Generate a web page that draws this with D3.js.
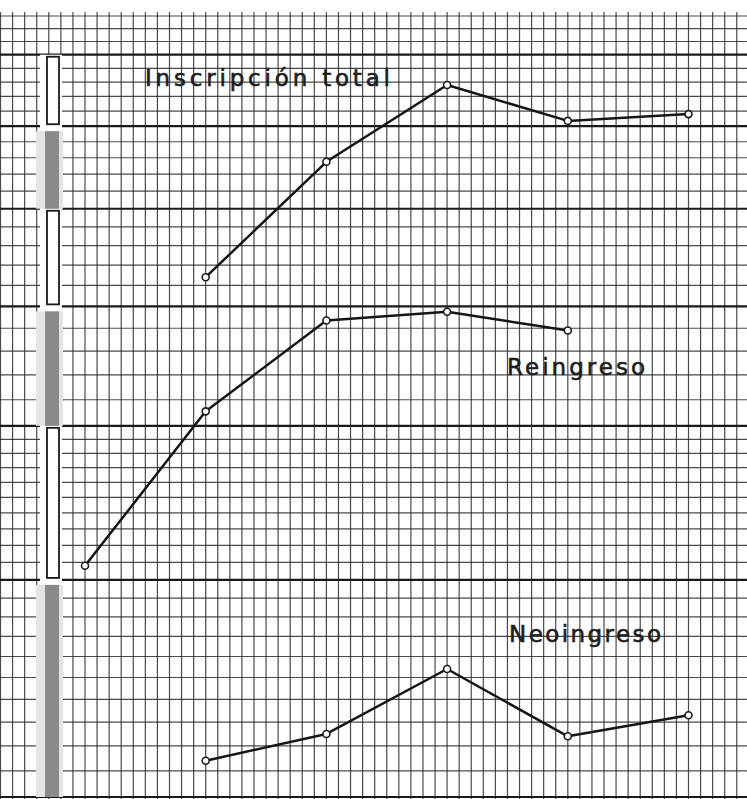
<!DOCTYPE html>
<html>
<head>
<meta charset="utf-8">
<script src="https://cdn.jsdelivr.net/npm/d3@7"></script>
<style>
  html, body { margin: 0; padding: 0; background: #fff; }
  svg { display: block; }
</style>
</head>
<body>
<script>
// ---------- data (values read in the units of the semi-log paper) ----------
const categories = ["1", "2", "3", "4", "5", "6"];
const inscripcionTotal = [null, 5.28, 6.55, 7.56, 7.07, 7.16];
const reingreso       = [3.08, 4.11, 4.87, 4.95, 4.78, null];
const neoingreso      = [null, 2.14, 2.25, 2.54, 2.24, 2.33];
const seriesNames = ["Inscripción total", "Reingreso", "Neoingreso"];
// paper rulings
const majorValues = [2, 3, 4, 5, 6, 7, 8];
const minorStepLow = 0.1;   // between 2 and 4
const minorStepHigh = 0.2;  // between 4 and the top
const paperTop = 8.6;

const W = 747, H = 799;
const svg = d3.select("body").append("svg").attr("width", W).attr("height", H);
svg.append("rect").attr("width", W).attr("height", H).attr("fill", "#fff");

const y = d3.scaleLog().domain([2, paperTop]).range([797, 16]);
const x = d3.scalePoint().domain(categories).range([85, 688.5]);
const xGrid = d3.scaleLinear().domain([0, 50]).range([85, 688.5]);

// ---------- grid ----------
const minor = [];
for (let v = 2; v < 4 - 1e-9; v += minorStepLow) minor.push(+v.toFixed(2));
for (let v = 4; v <= paperTop + 1e-9; v += minorStepHigh) minor.push(+v.toFixed(2));

const g = svg.append("g");
const vcols = d3.range(-7, 56);
g.selectAll("line.v").data(vcols).join("line")
  .attr("x1", d => xGrid(d)).attr("x2", d => xGrid(d))
  .attr("y1", 12).attr("y2", H)
  .attr("stroke", "#2a2a2a").attr("stroke-width", 1.2).attr("stroke-opacity", 0.85);
g.selectAll("line.h").data(minor.filter(v => !majorValues.includes(v))).join("line")
  .attr("x1", 0).attr("x2", W)
  .attr("y1", d => y(d)).attr("y2", d => y(d))
  .attr("stroke", "#2a2a2a").attr("stroke-width", 1.2).attr("stroke-opacity", 0.85);
g.selectAll("line.M").data(majorValues).join("line")
  .attr("x1", 0).attr("x2", W)
  .attr("y1", d => y(d)).attr("y2", d => y(d))
  .attr("stroke", "#1a1a1a").attr("stroke-width", 2.2);

// ---------- left scale strip (alternating units) ----------
const units = d3.range(2, 8);
const strip = svg.append("g");
strip.append("rect").attr("x", 40).attr("width", 22)
  .attr("y", y(8)).attr("height", y(2) - y(8)).attr("fill", "#fff");
units.forEach(u => {
  const top = y(u + 1), bot = y(u);
  const shaded = (u % 2 === 0);
  if (shaded) {
    strip.append("rect").attr("x", 36).attr("width", 27)
      .attr("y", top + 5).attr("height", bot - top - 5).attr("fill", "#e4e4e4");
    strip.append("rect").attr("x", 45).attr("width", 14)
      .attr("y", top + 5).attr("height", bot - top - 5).attr("fill", "#8a8a8a");
  } else {
    strip.append("rect").attr("x", 47).attr("width", 12)
      .attr("y", top + 2).attr("height", bot - top - 4)
      .attr("fill", "#fff").attr("stroke", "#1a1a1a").attr("stroke-width", 1.8);
  }
});

// ---------- series ----------
const line = d3.line()
  .defined(d => d != null)
  .x((d, i) => x(categories[i]))
  .y(d => y(d));

const allSeries = [inscripcionTotal, reingreso, neoingreso];
allSeries.forEach(s => {
  svg.append("path").datum(s)
    .attr("d", line)
    .attr("fill", "none").attr("stroke", "#151515").attr("stroke-width", 2.5)
    .attr("stroke-linejoin", "round");
  svg.selectAll(null).data(s.map((v, i) => ({ v, i })).filter(d => d.v != null))
    .join("circle")
    .attr("cx", d => x(categories[d.i])).attr("cy", d => y(d.v))
    .attr("r", 3.5).attr("fill", "#fff").attr("stroke", "#1a1a1a").attr("stroke-width", 1.6);
});

// ---------- labels ----------
const labels = [
  { text: seriesNames[0], x: 145, y: 86, len: 245 },
  { text: seriesNames[1], x: 507, y: 375, len: 138 },
  { text: seriesNames[2], x: 509, y: 642, len: 152 }
];
svg.selectAll("text.lbl").data(labels).join("text")
  .attr("x", d => d.x).attr("y", d => d.y)
  .attr("textLength", d => d.len).attr("lengthAdjust", "spacing")
  .attr("font-family", "DejaVu Sans, sans-serif").attr("font-size", 23)
  .attr("fill", "#1e1e1e").attr("stroke", "#1e1e1e").attr("stroke-width", 0.6)
  .text(d => d.text);
</script>
</body>
</html>
